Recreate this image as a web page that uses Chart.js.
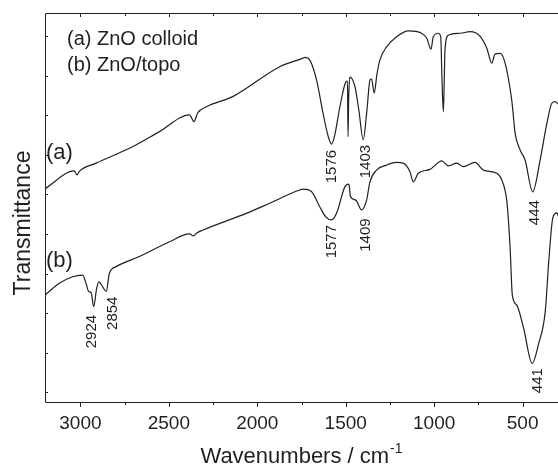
<!DOCTYPE html>
<html>
<head>
<meta charset="utf-8">
<script src="https://cdn.jsdelivr.net/npm/chart.js@4"></script>
<style>
  html, body { margin: 0; padding: 0; background: #fff; }
  #wrap { width: 558px; height: 476px; position: relative; }
</style>
</head>
<body>
<div id="wrap"><canvas id="grafico-ftir"></canvas></div>
<script>
// espectro (a) ZnO coloide
const wnA = [3200, 3034, 3019, 3006, 2911, 2706, 2553, 2383, 2358, 2337, 2288, 2139, 1873, 1741, 1731, 1703,
  1665, 1628, 1601, 1580, 1562, 1533, 1499, 1490, 1487, 1483.5, 1477, 1448, 1426, 1401, 1380, 1363, 1354,
  1339, 1324, 1307, 1269, 1212, 1147, 1071, 1042, 1018, 1005, 977, 963, 956, 948, 943, 939, 920, 854, 797,
  740, 702, 674, 656, 627, 599, 561, 542, 514, 486, 443, 401, 363, 335, 316, 299];
const tA = [54.8, 59.4, 58.4, 59.3, 61.4, 65.6, 69.5, 73.8, 72.1, 74.3, 75.9, 78.5, 86.2, 88.4, 88.6, 87.9,
  82.8, 74.2, 68.6, 66.3, 68.6, 75.9, 82.3, 82.5, 68.2, 77.6, 83.5, 81.1, 75.1, 67.4, 75.1, 82.8, 83.1,
  79.4, 84.1, 87.9, 91.3, 93.9, 95.4, 94.8, 93.5, 90.7, 93.9, 94.8, 93.9, 83.2, 74.6, 82.8, 90.5, 94.3, 94.8, 95.2,
  94.0, 90.9, 87.1, 89.5, 89.6, 87.1, 77.4, 69.0, 64.8, 62.2, 54.0, 62.2, 71.6, 76.8, 77.2, 76.6];

// espectro (b) ZnO/topo
const wnB = [3200, 3119, 3044, 2987, 2968, 2953, 2939, 2925, 2908, 2896, 2874, 2854, 2836, 2798, 2666, 2496,
  2383, 2360, 2343, 2307, 2062, 1930, 1760, 1741, 1694, 1647, 1613, 1580, 1552, 1505, 1482, 1473, 1443,
  1410, 1382, 1363, 1326, 1269, 1212, 1175, 1137, 1118, 1090, 1024, 957, 920, 872, 835, 769, 722, 646,
  618, 589, 571, 558, 533, 495, 446, 410, 372, 353, 329, 306, 299];
const tB = [27.5, 30.5, 32.2, 32.6, 30.5, 28.4, 28.1, 24.5, 29.2, 30.9, 29.6, 28.4, 33.1, 34.8, 37.4, 41.2,
  43.2, 42.7, 43.4, 44.2, 48.5, 51.1, 54.5, 54.7, 54.1, 50.2, 47.6, 46.8, 48.5, 55.3, 56.0, 52.8, 51.9,
  49.4, 51.9, 56.6, 59.6, 60.9, 61.6, 61.4, 59.2, 56.6, 58.8, 59.8, 62.0, 60.7, 61.4, 60.5, 61.6, 59.6, 58.8,
  57.1, 51.5, 39.9, 27.4, 24.9, 19.1, 9.9, 14.9, 23.3, 35.7, 47.4, 48.6, 47.8];

// eixos
const ticksX = [3000, 2750, 2500, 2250, 2000, 1750, 1500, 1250, 1000, 750, 500];
const rotulosX = ['3000', '', '2500', '', '2000', '', '1500', '', '1000', '', '500'];
const ticksY = [2.6, 12.7, 22.9, 33.0, 43.2, 53.4, 63.5, 73.7, 83.8, 94.0];

// picos anotados
const picosTexto = ['1576', '1403', '444', '1577', '1409', '441', '2924', '2854'];
const picosWn = [1576, 1388, 429, 1577, 1388, 415, 2934, 2817];
const picosT = [64.8, 66.1, 51.9, 45.5, 47.2, 8.7, 22.4, 27.1];

const legenda = ['(a) ZnO colloid', '(b) ZnO/topo'];

const fonte = '"Liberation Sans", Arial, sans-serif';
const cor = '#231f20';

function pontos(xs, ys) {
  return xs.map(function (x, i) { return { x: x, y: ys[i] }; });
}

const desenhoEixos = {
  id: 'desenhoEixos',
  afterDraw: function (chart) {
    const ctx = chart.ctx;
    const a = chart.chartArea;
    const sx = chart.scales.x;
    const sy = chart.scales.y;
    ctx.save();
    ctx.strokeStyle = cor;
    ctx.fillStyle = cor;
    ctx.lineWidth = 1;

    // moldura (sem lado direito, recortado)
    ctx.beginPath();
    ctx.moveTo(a.right, a.top + 0.5);
    ctx.lineTo(a.left + 0.5, a.top + 0.5);
    ctx.lineTo(a.left + 0.5, a.bottom + 0.5);
    ctx.lineTo(a.right, a.bottom + 0.5);
    ctx.stroke();

    // ticks x
    ticksX.forEach(function (v, i) {
      const px = Math.round(sx.getPixelForValue(v)) + 0.5;
      const maior = rotulosX[i] !== '';
      ctx.beginPath();
      ctx.moveTo(px, a.bottom);
      ctx.lineTo(px, a.bottom + (maior ? 5 : 3));
      ctx.moveTo(px, a.top);
      ctx.lineTo(px, a.top + (maior ? 4 : 3));
      ctx.stroke();
    });
    ticksY.forEach(function (v) {
      const py = Math.round(sy.getPixelForValue(v)) + 0.5;
      ctx.beginPath();
      ctx.moveTo(a.left, py);
      ctx.lineTo(a.left + 3, py);
      ctx.stroke();
    });

    ctx.font = '19px ' + fonte;
    ctx.textAlign = 'center';
    ctx.textBaseline = 'middle';
    ticksX.forEach(function (v, i) {
      if (rotulosX[i]) ctx.fillText(rotulosX[i], sx.getPixelForValue(v), a.bottom + 22);
    });

    // titulo x com sobrescrito
    ctx.font = '22px ' + fonte;
    const base = 'Wavenumbers / cm';
    const wBase = ctx.measureText(base).width;
    ctx.font = '14px ' + fonte;
    const wSup = ctx.measureText('-1').width;
    const x0 = 301 - (wBase + wSup) / 2;
    ctx.textAlign = 'left';
    ctx.textBaseline = 'alphabetic';
    ctx.font = '22px ' + fonte;
    ctx.fillText(base, x0, 463);
    ctx.font = '14px ' + fonte;
    ctx.fillText('-1', x0 + wBase + 1, 453);

    // titulo y
    ctx.save();
    ctx.translate(24, 223);
    ctx.rotate(-Math.PI / 2);
    ctx.font = '23px ' + fonte;
    ctx.textAlign = 'center';
    ctx.textBaseline = 'middle';
    ctx.fillText('Transmittance', 0, 0);
    ctx.restore();

    // legenda
    ctx.font = '20px ' + fonte;
    ctx.textAlign = 'left';
    ctx.textBaseline = 'middle';
    ctx.fillText(legenda[0], 67, 39);
    ctx.fillText(legenda[1], 67, 65);
    ctx.font = '22px ' + fonte;
    ctx.fillText('(a)', 46, 153);
    ctx.fillText('(b)', 46, 261);

    // rotulos dos picos (verticais)
    ctx.font = '15px ' + fonte;
    picosTexto.forEach(function (t, i) {
      ctx.save();
      ctx.translate(sx.getPixelForValue(picosWn[i]), sy.getPixelForValue(picosT[i]));
      ctx.rotate(-Math.PI / 2);
      ctx.textAlign = 'right';
      ctx.textBaseline = 'middle';
      ctx.fillText(t, 0, 0);
      ctx.restore();
    });
    ctx.restore();
  }
};

new Chart(document.getElementById('grafico-ftir'), {
  type: 'line',
  data: {
    datasets: [
      { label: '(a) ZnO colloid', data: pontos(wnA, tA), borderColor: cor, borderWidth: 1.2, pointRadius: 0, cubicInterpolationMode: 'monotone', fill: false },
      { label: '(b) ZnO/topo', data: pontos(wnB, tB), borderColor: cor, borderWidth: 1.2, pointRadius: 0, cubicInterpolationMode: 'monotone', fill: false }
    ]
  },
  options: {
    responsive: true,
    maintainAspectRatio: false,
    animation: false,
    parsing: false,
    layout: { padding: { left: 45, top: 13, right: 0, bottom: 74 } },
    plugins: { legend: { display: false }, tooltip: { enabled: false } },
    scales: {
      x: { type: 'linear', reverse: true, min: 300, max: 3200, display: false },
      y: { type: 'linear', min: 0, max: 100, display: false }
    }
  },
  plugins: [desenhoEixos]
});
</script>
</body>
</html>
